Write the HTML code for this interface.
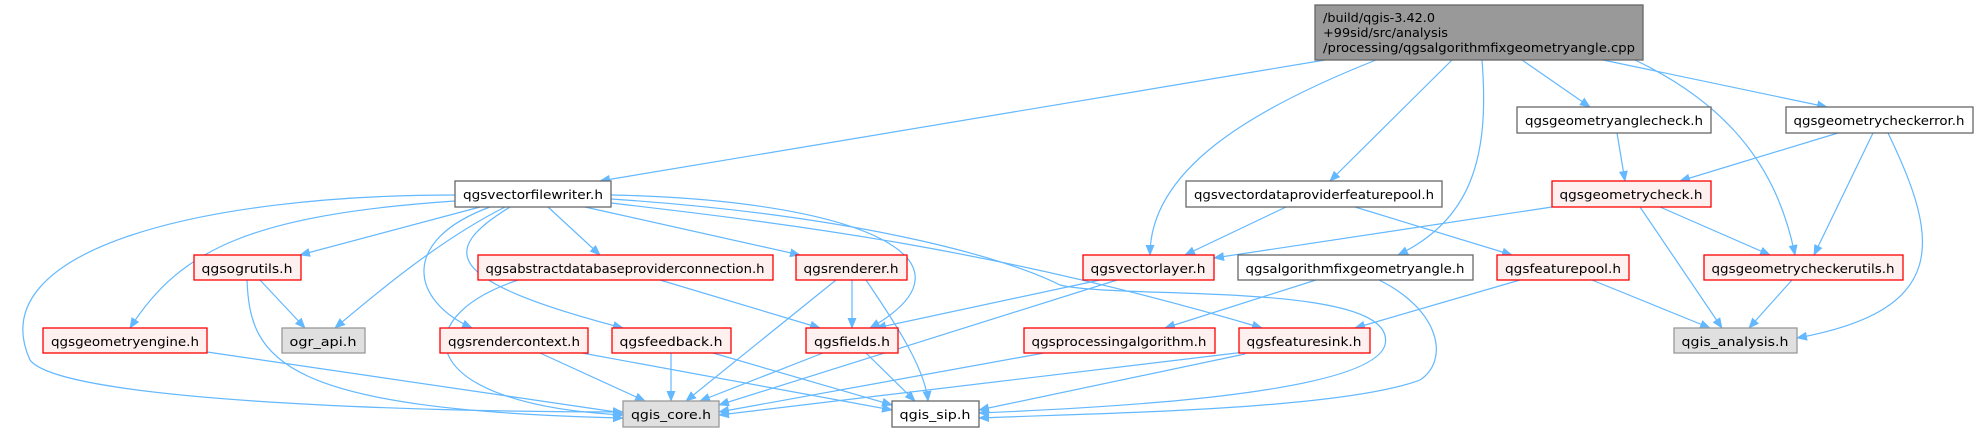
<!DOCTYPE html>
<html><head><meta charset="utf-8"><style>
html,body{margin:0;padding:0;background:#fff;}
svg{display:block;}
text{font-family:"DejaVu Sans","Liberation Sans",sans-serif;font-size:12.5px;fill:#000;}
.e{fill:none;stroke:#63b8ff;stroke-width:1.2;marker-end:url(#a);}
.w{fill:#fff;stroke:#666;stroke-width:1.3;}
.r{fill:#fff0f0;stroke:#ff0000;stroke-width:1.3;}
.g{fill:#e0e0e0;stroke:#999;stroke-width:1.3;}
</style></head><body>
<svg width="1978" height="432" viewBox="0 0 1978 432" xmlns="http://www.w3.org/2000/svg">
<defs><marker id="a" markerWidth="11" markerHeight="9" refX="10" refY="4.5" orient="auto" markerUnits="userSpaceOnUse"><path d="M0,0 L11,4.5 L0,9 z" fill="#63b8ff"/></marker></defs>
<path class="e" d="M1325,60 L600,181"/>
<path class="e" d="M1376,60 C1250,110 1150,170 1150,255"/>
<path class="e" d="M1452,60 L1330,181"/>
<path class="e" d="M1482,60 C1490,160 1470,220 1398,255"/>
<path class="e" d="M1522,60 L1590,107"/>
<path class="e" d="M1603,60 L1827,107"/>
<path class="e" d="M1635,60 C1740,110 1780,180 1795,255"/>
<path class="e" d="M1617,133 L1625,181"/>
<path class="e" d="M1838,133 L1680,181"/>
<path class="e" d="M1873,133 L1814,255"/>
<path class="e" d="M1888,133 C1940,240 1950,310 1797,338"/>
<path class="e" d="M1286,207 L1185,255"/>
<path class="e" d="M1355,207 L1512,255"/>
<path class="e" d="M1552,207 L1214,258"/>
<path class="e" d="M1660,207 L1770,255"/>
<path class="e" d="M1640,207 L1722,328"/>
<path class="e" d="M1100,280 L876,328"/>
<path class="e" d="M1117,280 L719,405"/>
<path class="e" d="M1316,280 L1165,328"/>
<path class="e" d="M1379,280 C1440,310 1450,360 1420,380 C1340,410 1100,413 979,418"/>
<path class="e" d="M1520,280 L1355,328"/>
<path class="e" d="M1592,280 L1710,328"/>
<path class="e" d="M1792,280 L1749,328"/>
<path class="e" d="M1044,353 L719,412"/>
<path class="e" d="M1245,352 L719,415"/>
<path class="e" d="M1245,354 L979,410"/>
<path class="e" d="M455,195 C200,195 -20,250 30,360 C60,400 400,412 623,412"/>
<path class="e" d="M455,201 C250,215 180,250 130,328"/>
<path class="e" d="M480,207 L300,255"/>
<path class="e" d="M505,207 C440,240 380,290 335,328"/>
<path class="e" d="M490,207 C400,240 410,300 472,328"/>
<path class="e" d="M510,207 C440,250 440,280 623,328"/>
<path class="e" d="M548,207 L600,255"/>
<path class="e" d="M585,207 L800,255"/>
<path class="e" d="M611,195 C860,200 990,260 870,328"/>
<path class="e" d="M611,199 C850,215 1000,255 1060,285 C1120,300 1400,280 1385,345 C1370,395 1100,408 979,413"/>
<path class="e" d="M611,203 C800,225 1000,250 1262,328"/>
<path class="e" d="M260,280 L305,328"/>
<path class="e" d="M247,280 C250,360 280,410 623,418"/>
<path class="e" d="M207,352 L623,413"/>
<path class="e" d="M518,280 C400,320 420,405 623,415"/>
<path class="e" d="M660,280 L820,328"/>
<path class="e" d="M836,280 L686,401"/>
<path class="e" d="M852,280 L852,328"/>
<path class="e" d="M866,280 C900,330 925,370 928,401"/>
<path class="e" d="M540,353 L645,401"/>
<path class="e" d="M582,353 L892,410"/>
<path class="e" d="M671,353 L671,401"/>
<path class="e" d="M713,353 L892,405"/>
<path class="e" d="M823,353 L700,401"/>
<path class="e" d="M866,353 L915,401"/>
<rect x="1315" y="5" width="328" height="55" fill="#999" stroke="#666" stroke-width="1.3"/>
<text x="1323" y="22" textLength="112" lengthAdjust="spacingAndGlyphs">/build/qgis-3.42.0</text>
<text x="1323" y="37" textLength="125" lengthAdjust="spacingAndGlyphs">+99sid/src/analysis</text>
<text x="1323" y="52" textLength="312" lengthAdjust="spacingAndGlyphs">/processing/qgsalgorithmfixgeometryangle.cpp</text>
<g text-anchor="middle">
<rect class="w" x="1517" y="107" width="194" height="26"/><text x="1614" y="125" textLength="178" lengthAdjust="spacingAndGlyphs">qgsgeometryanglecheck.h</text>
<rect class="w" x="1786" y="107" width="187" height="26"/><text x="1879" y="125" textLength="171" lengthAdjust="spacingAndGlyphs">qgsgeometrycheckerror.h</text>
<rect class="w" x="455" y="181" width="156" height="26"/><text x="533" y="199" textLength="140" lengthAdjust="spacingAndGlyphs">qgsvectorfilewriter.h</text>
<rect class="w" x="1186" y="181" width="256" height="26"/><text x="1314" y="199" textLength="240" lengthAdjust="spacingAndGlyphs">qgsvectordataproviderfeaturepool.h</text>
<rect class="r" x="1552" y="181" width="159" height="26"/><text x="1631" y="199" textLength="143" lengthAdjust="spacingAndGlyphs">qgsgeometrycheck.h</text>
<rect class="r" x="194" y="255" width="107" height="25"/><text x="247" y="273" textLength="91" lengthAdjust="spacingAndGlyphs">qgsogrutils.h</text>
<rect class="r" x="478" y="255" width="295" height="25"/><text x="625" y="273" textLength="279" lengthAdjust="spacingAndGlyphs">qgsabstractdatabaseproviderconnection.h</text>
<rect class="r" x="796" y="255" width="111" height="25"/><text x="851" y="273" textLength="95" lengthAdjust="spacingAndGlyphs">qgsrenderer.h</text>
<rect class="r" x="1083" y="255" width="131" height="25"/><text x="1148" y="273" textLength="115" lengthAdjust="spacingAndGlyphs">qgsvectorlayer.h</text>
<rect class="w" x="1238" y="255" width="235" height="25"/><text x="1355" y="273" textLength="219" lengthAdjust="spacingAndGlyphs">qgsalgorithmfixgeometryangle.h</text>
<rect class="r" x="1497" y="255" width="132" height="25"/><text x="1563" y="273" textLength="116" lengthAdjust="spacingAndGlyphs">qgsfeaturepool.h</text>
<rect class="r" x="1704" y="255" width="199" height="25"/><text x="1803" y="273" textLength="183" lengthAdjust="spacingAndGlyphs">qgsgeometrycheckerutils.h</text>
<rect class="r" x="43" y="328" width="164" height="25"/><text x="125" y="346" textLength="148" lengthAdjust="spacingAndGlyphs">qgsgeometryengine.h</text>
<rect class="g" x="282" y="328" width="83" height="25"/><text x="323" y="346" textLength="67" lengthAdjust="spacingAndGlyphs">ogr_api.h</text>
<rect class="r" x="440" y="328" width="148" height="25"/><text x="514" y="346" textLength="132" lengthAdjust="spacingAndGlyphs">qgsrendercontext.h</text>
<rect class="r" x="612" y="328" width="119" height="25"/><text x="671" y="346" textLength="103" lengthAdjust="spacingAndGlyphs">qgsfeedback.h</text>
<rect class="r" x="806" y="328" width="92" height="25"/><text x="852" y="346" textLength="76" lengthAdjust="spacingAndGlyphs">qgsfields.h</text>
<rect class="r" x="1024" y="328" width="191" height="25"/><text x="1119" y="346" textLength="175" lengthAdjust="spacingAndGlyphs">qgsprocessingalgorithm.h</text>
<rect class="r" x="1239" y="328" width="131" height="25"/><text x="1304" y="346" textLength="115" lengthAdjust="spacingAndGlyphs">qgsfeaturesink.h</text>
<rect class="g" x="1674" y="328" width="123" height="25"/><text x="1735" y="346" textLength="107" lengthAdjust="spacingAndGlyphs">qgis_analysis.h</text>
<rect class="g" x="623" y="401" width="96" height="26"/><text x="671" y="419" textLength="80" lengthAdjust="spacingAndGlyphs">qgis_core.h</text>
<rect class="w" x="892" y="401" width="87" height="26"/><text x="935" y="419" textLength="71" lengthAdjust="spacingAndGlyphs">qgis_sip.h</text>
</g>
</svg>
</body></html>
